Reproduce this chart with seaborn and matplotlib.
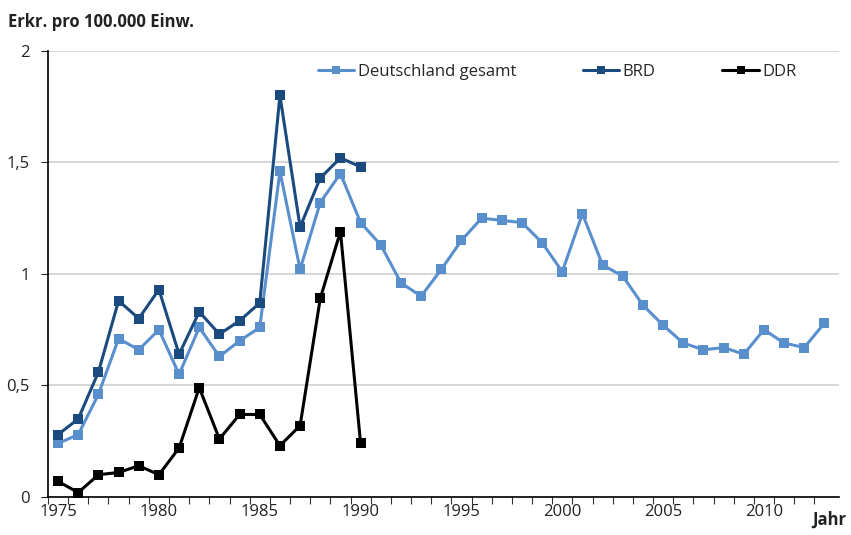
import matplotlib.pyplot as plt
import numpy as np
import pandas as pd
import seaborn as sns

years_all = list(range(1975, 2014))
gesamt = [0.24, 0.28, 0.46, 0.71, 0.66, 0.75, 0.55, 0.76, 0.63, 0.70,
          0.76, 1.46, 1.02, 1.32, 1.45, 1.23, 1.13, 0.96, 0.90, 1.02,
          1.15, 1.25, 1.24, 1.23, 1.14, 1.01, 1.27, 1.04, 0.99, 0.86,
          0.77, 0.69, 0.66, 0.67, 0.64, 0.75, 0.69, 0.67, 0.78]
years_split = list(range(1975, 1991))
brd = [0.28, 0.35, 0.56, 0.88, 0.80, 0.93, 0.64, 0.83, 0.73, 0.79,
       0.87, 1.80, 1.21, 1.43, 1.52, 1.48]
ddr = [0.07, 0.02, 0.10, 0.11, 0.14, 0.10, 0.22, 0.49, 0.26, 0.37,
       0.37, 0.23, 0.32, 0.89, 1.19, 0.24]

c_ges = '#5a8fcd'
c_brd = '#1b4a7e'
c_ddr = '#000000'

sns.set_theme(style="white")
plt.rcParams['font.family'] = ['Open Sans', 'DejaVu Sans']

fig = plt.figure(figsize=(8.51, 5.35), dpi=100)
ax = fig.add_axes([0.0564, 0.071, 0.929, 0.834])

df_g = pd.DataFrame({'Jahr': years_all, 'Wert': gesamt})
df_b = pd.DataFrame({'Jahr': years_split, 'Wert': brd})
df_d = pd.DataFrame({'Jahr': years_split, 'Wert': ddr})

sns.lineplot(data=df_g, x='Jahr', y='Wert', ax=ax, color=c_ges, linewidth=2.2,
             marker='s', markersize=7, markeredgewidth=0, label='Deutschland gesamt')
sns.lineplot(data=df_b, x='Jahr', y='Wert', ax=ax, color=c_brd, linewidth=2.2,
             marker='s', markersize=7, markeredgewidth=0, label='BRD')
sns.lineplot(data=df_d, x='Jahr', y='Wert', ax=ax, color=c_ddr, linewidth=2.2,
             marker='s', markersize=7, markeredgewidth=0, label='DDR')

ax.set_xlim(1974.5, 2013.7)
ax.set_ylim(0, 2)
ax.set_yticks([0, 0.5, 1, 1.5, 2])
ax.set_yticklabels(['0', '0,5', '1', '1,5', '2'])
ax.yaxis.grid(True, color='#d0d0d0', linewidth=1.2)
ax.set_axisbelow(True)

ax.set_xticks(list(range(1975, 2014, 5)))
ax.set_xticks([y + 0.5 for y in range(1974, 2013)], minor=True)
ax.tick_params(axis='x', which='major', length=0, pad=5, labelsize=12, colors='#222222')
ax.tick_params(axis='x', which='minor', bottom=True, length=5, width=0.8, color='#333333')
ax.tick_params(axis='y', left=True, length=5, width=0.8, pad=8, labelsize=12,
               colors='#222222')

for s in ['top', 'right']:
    ax.spines[s].set_visible(False)
ax.spines['left'].set_color('black')
ax.spines['bottom'].set_color('black')
ax.spines['left'].set_linewidth(1.2)
ax.spines['bottom'].set_linewidth(1.2)

ax.set_xlabel('')
ax.set_ylabel('')
fig.text(0.009, 0.958, 'Erkr. pro 100.000 Einw.', fontsize=12, fontweight='bold',
         color='#222222', va='center')
fig.text(0.974, 0.012, 'Jahr', fontsize=12, fontweight='bold', color='#222222',
         ha='center', va='bottom')

leg = ax.legend(loc='upper center', bbox_to_anchor=(0.644, 1.005), ncol=3, frameon=False,
                fontsize=12, columnspacing=4.0, handlelength=2.2, handletextpad=0.2,
                markerscale=0.75)

fig.savefig('out.png', dpi=100)
